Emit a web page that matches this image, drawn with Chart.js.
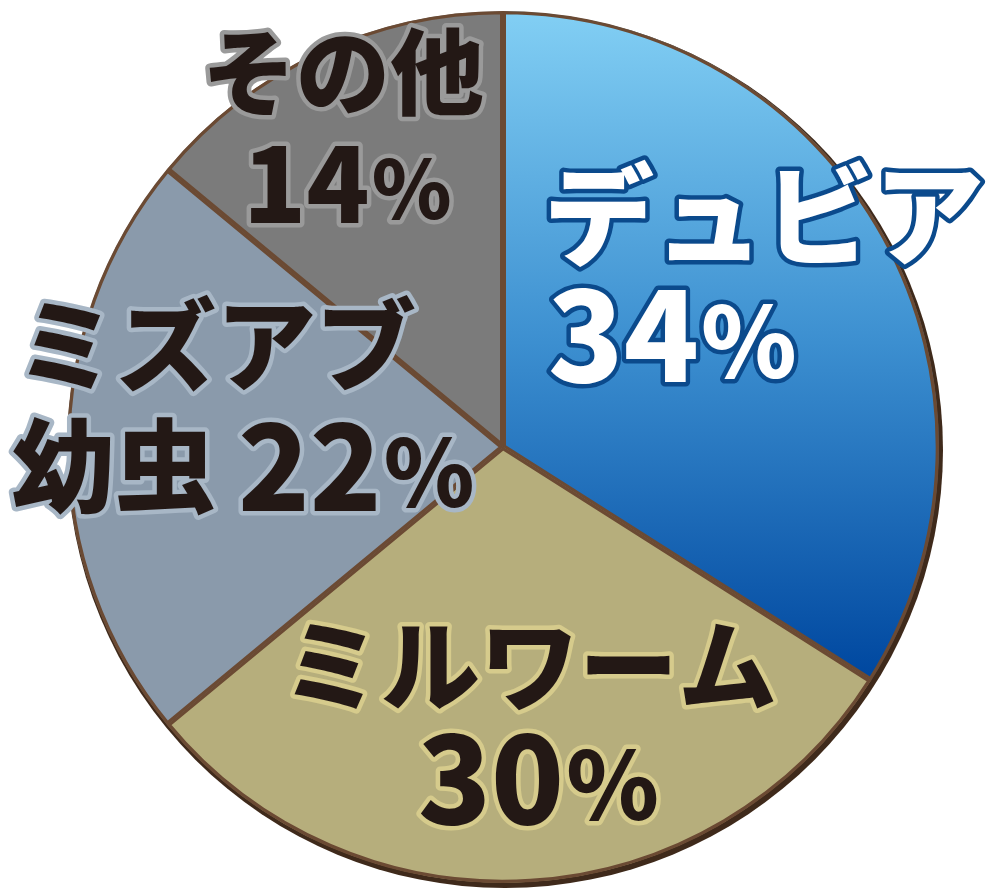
<!DOCTYPE html>
<html lang="ja">
<head>
  <meta charset="UTF-8">
  <title>エサの割合</title>
  <script src="https://cdn.jsdelivr.net/npm/chart.js"></script>
  <style>
    html, body { margin: 0; padding: 0; background: #fff; }
    canvas { display: block; }
  </style>
</head>
<body>
  <canvas id="pie" width="1000" height="896"></canvas>

  <script>
    // data, clockwise from 12 o'clock
    const names = ['デュビア', 'ミルワーム', 'ミズアブ幼虫', 'その他'];
    const values = [34, 30, 22, 14];

    const fills = [null, '#b6ae7c', '#8a9aab', '#7b7b7b'];
    const border = '#6b4a33';

    // label layout: name lines, then value; x,y are text anchors (left, middle)
    const labelLayout = [
      { lines: [{ t: 'デュビア', x: 544, y: 215, size: 110 }], num: { x: 548, y: 335, size: 124 }, fill: '#ffffff', stroke: '#0b4a8c' },
      { lines: [{ t: 'ミルワーム', x: 282, y: 665, size: 99 }], num: { x: 418, y: 778, size: 120 }, fill: '#231815', stroke: '#d6cb8c' },
      { lines: [{ t: 'ミズアブ', x: 16, y: 345, size: 100 }, { t: '幼虫', x: 12, y: 466, size: 102 }], num: { x: 238, y: 466, size: 118 }, fill: '#231815', stroke: '#a8b7c6' },
      { lines: [{ t: 'その他', x: 202, y: 72, size: 94 }], num: { x: 243, y: 183, size: 104 }, fill: '#231815', stroke: '#9a9a9a' }
    ];

    const FONT = '"Noto Sans CJK JP", "Noto Sans", sans-serif';

    function blueGradient(context) {
      const chart = context.chart;
      const area = chart.chartArea;
      if (!area) return '#3a8fd0';
      const g = chart.ctx.createLinearGradient(0, area.top, 0, area.top + area.height * 0.76);
      g.addColorStop(0, '#82cff4');
      g.addColorStop(0.5, '#3c8fd0');
      g.addColorStop(1, '#0048a0');
      return g;
    }

    function outlined(ctx, text, x, y, size, fill, stroke) {
      ctx.font = '900 ' + size + 'px ' + FONT;
      ctx.lineJoin = 'round';
      ctx.lineWidth = 9;
      ctx.strokeStyle = stroke;
      ctx.strokeText(text, x, y);
      ctx.fillStyle = fill;
      ctx.fillText(text, x, y);
      return ctx.measureText(text).width;
    }

    const rimShadow = {
      id: 'rimShadow',
      beforeDatasetsDraw(chart) {
        const arc = chart.getDatasetMeta(0).data[0];
        if (!arc) return;
        const ctx = chart.ctx;
        ctx.save();
        ctx.beginPath();
        ctx.arc(arc.x + 2, arc.y + 3, arc.outerRadius + 2, 0, Math.PI * 2);
        ctx.fillStyle = '#3f2a1b';
        ctx.fill();
        ctx.restore();
      }
    };

    const sliceLabels = {
      id: 'sliceLabels',
      afterDatasetsDraw(chart) {
        const ctx = chart.ctx;
        ctx.save();
        ctx.textBaseline = 'middle';
        ctx.textAlign = 'left';
        labelLayout.forEach((l, i) => {
          l.lines.forEach(line => outlined(ctx, line.t, line.x, line.y, line.size, l.fill, l.stroke));
          const w = outlined(ctx, String(values[i]), l.num.x, l.num.y, l.num.size, l.fill, l.stroke);
          outlined(ctx, '%', l.num.x + w + 2, l.num.y + l.num.size * 0.05, Math.round(l.num.size * 0.78), l.fill, l.stroke);
        });
        ctx.restore();
      }
    };

    new Chart(document.getElementById('pie'), {
      type: 'pie',
      data: {
        labels: names,
        datasets: [{
          data: values,
          backgroundColor: (c) => c.dataIndex === 0 ? blueGradient(c) : fills[c.dataIndex],
          borderColor: border,
          borderWidth: 3,
          borderAlign: 'inner'
        }]
      },
      options: {
        responsive: false,
        animation: false,
        events: [],
        layout: { padding: { left: 64, right: 58, top: 11, bottom: 13 } },
        plugins: {
          legend: { display: false },
          tooltip: { enabled: false }
        }
      },
      plugins: [rimShadow, sliceLabels]
    });
  </script>
</body>
</html>
